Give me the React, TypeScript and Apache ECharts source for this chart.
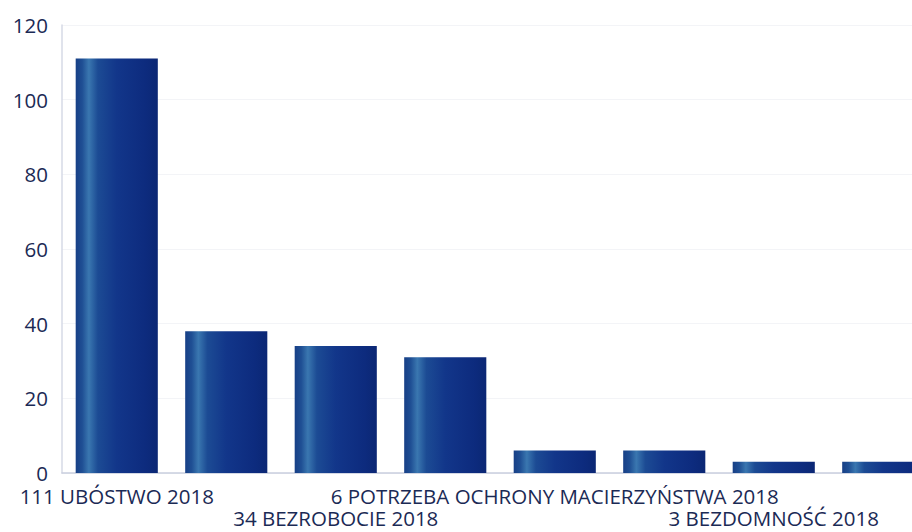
import React, { useEffect, useRef } from "react";
import * as echarts from "echarts";

const categories = [
  "111 UBÓSTWO 2018",
  "38 DŁUGOTRWAŁA LUB CIĘŻKA CHOROBA 2018",
  "34 BEZROBOCIE 2018",
  "31 NIEPEŁNOSPRAWNOŚĆ 2018",
  "6 POTRZEBA OCHRONY MACIERZYŃSTWA 2018",
  "6 ALKOHOLIZM 2018",
  "3 BEZDOMNOŚĆ 2018",
  "3 PRZEMOC W RODZINIE 2018",
];
const values = [111, 38, 34, 31, 6, 6, 3, 3];
const yTicks = { min: 0, max: 120, interval: 20 };

export default function App() {
  const ref = useRef<HTMLDivElement>(null);
  useEffect(() => {
    if (!ref.current) return;
    const chart = echarts.init(ref.current, null, { renderer: "svg" });
    const barColor = new echarts.graphic.LinearGradient(0, 0, 1, 0, [
      { offset: 0, color: "#173f86" },
      { offset: 0.08, color: "#1f4f94" },
      { offset: 0.16, color: "#3a77b0" },
      { offset: 0.27, color: "#1c4b94" },
      { offset: 0.5, color: "#12368a" },
      { offset: 0.85, color: "#0d2b7e" },
      { offset: 1, color: "#0b2774" },
    ]);
    const labelStyle = {
      color: "#1b2a55",
      fontFamily: "Open Sans",
      fontSize: 20.5,
      lineHeight: 20,
    };
    chart.setOption({
      animation: false,
      backgroundColor: "#ffffff",
      grid: { left: 62, right: 1, top: 25, bottom: 59, containLabel: false },
      xAxis: [
        {
          type: "category",
          data: categories,
          position: "bottom",
          axisLine: { lineStyle: { color: "#c9cede", width: 1.5 } },
          axisTick: { show: false },
          axisLabel: {
            ...labelStyle,
            interval: (i: number) => i % 4 === 0,
            margin: 13,
            hideOverlap: false,
          },
        },
        {
          type: "category",
          data: categories,
          position: "bottom",
          axisLine: { show: false },
          axisTick: { show: false },
          splitLine: { show: false },
          axisLabel: {
            ...labelStyle,
            interval: (i: number) => i % 4 === 2,
            margin: 35,
            hideOverlap: false,
          },
        },
      ],
      yAxis: {
        type: "value",
        min: yTicks.min,
        max: yTicks.max,
        interval: yTicks.interval,
        axisLine: { show: true, lineStyle: { color: "#d6dae6", width: 1.5 } },
        axisTick: { show: false },
        splitLine: { show: true, lineStyle: { color: "#f3f4f7", width: 1 } },
        axisLabel: {
          ...labelStyle,
          margin: 14,
        },
      },
      series: [
        {
          type: "bar",
          xAxisIndex: 0,
          data: values,
          barWidth: "75%",
          itemStyle: { color: barColor },
        },
      ],
    });
    return () => chart.dispose();
  }, []);
  return (
    <div style={{ position: "fixed", left: 0, top: 0, width: 912, height: 532, overflow: "hidden", background: "#fff" }}>
      <div ref={ref} style={{ width: 939, height: 532 }} />
    </div>
  );
}
